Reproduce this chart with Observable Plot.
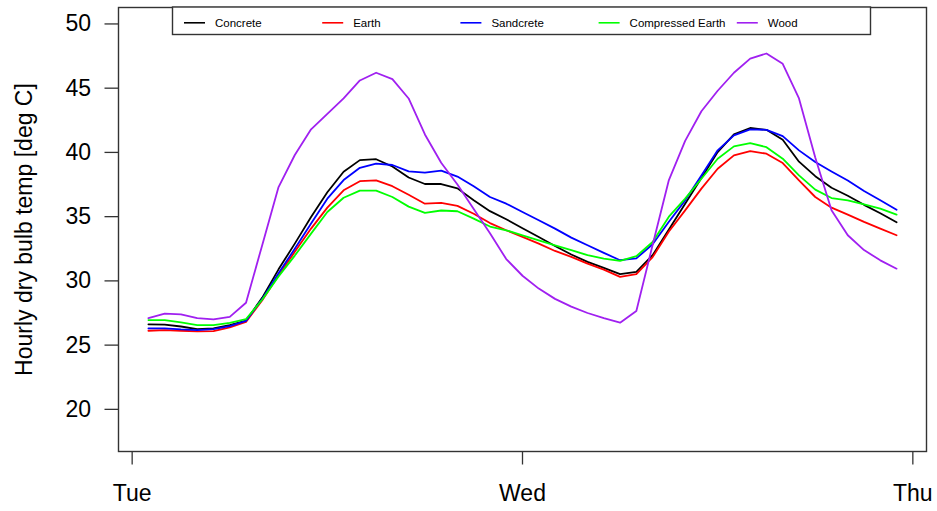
<!DOCTYPE html>
<html><head><meta charset="utf-8">
<script src="https://cdn.jsdelivr.net/npm/d3@7"></script>
<script src="https://cdn.jsdelivr.net/npm/@observablehq/plot@0.6"></script>
<style>
body{margin:0;background:#fff;}
#chart{position:relative;width:937px;height:511px;}
</style>
</head><body><div id="chart"></div>
<script>
// ---- data (hourly values, Tue 01:00 .. Wed 23:00) ----
const hours = [1,2,3,4,5,6,7,8,9,10,11,12,13,14,15,16,17,18,19,20,21,22,23,24,25,26,27,28,29,30,31,32,33,34,35,36,37,38,39,40,41,42,43,44,45,46,47];
const concrete = [26.62,26.6,26.45,26.25,26.3,26.55,26.9,28.7,30.9,32.9,34.97,36.9,38.5,39.4,39.47,38.9,38.05,37.54,37.54,37.2,36.27,35.43,34.8,34.1,33.42,32.72,32.05,31.48,31.01,30.52,30.7,32.0,34.0,36.0,38.0,40.03,41.4,41.9,41.76,40.98,39.28,38.15,37.25,36.63,35.92,35.26,34.56];
const earth = [26.12,26.17,26.12,26.07,26.09,26.38,26.8,28.5,30.44,32.26,34.07,35.7,37.05,37.76,37.82,37.37,36.7,36.01,36.07,35.84,35.23,34.5,33.94,33.42,32.9,32.33,31.87,31.35,30.88,30.31,30.52,31.85,33.85,35.49,37.18,38.73,39.77,40.1,39.9,39.17,37.82,36.53,35.7,35.16,34.59,34.07,33.55];
const sandcrete = [26.3,26.3,26.22,26.17,26.25,26.48,26.89,28.6,30.6,32.5,34.46,36.4,37.85,38.8,39.12,39.02,38.52,38.42,38.58,38.12,37.36,36.53,36.01,35.36,34.72,34.07,33.37,32.77,32.18,31.61,31.75,32.85,34.6,36.27,38.21,40.16,41.32,41.79,41.76,41.27,40.16,39.25,38.52,37.82,36.99,36.27,35.54];
const compressedEarth = [26.95,26.95,26.77,26.56,26.56,26.74,27.02,28.55,30.35,31.97,33.68,35.36,36.47,37.03,37.03,36.53,35.78,35.3,35.48,35.42,34.85,34.23,33.94,33.55,33.16,32.77,32.39,32.0,31.74,31.56,31.92,33.03,35.0,36.4,37.95,39.51,40.47,40.72,40.41,39.51,38.21,37.1,36.45,36.27,35.96,35.62,35.16];
const wood = [27.1,27.45,27.4,27.1,27.0,27.2,28.3,32.8,37.3,39.8,41.8,43.0,44.2,45.6,46.2,45.7,44.2,41.4,39.2,37.5,35.6,33.7,31.7,30.4,29.4,28.6,28.0,27.5,27.1,26.75,27.65,32.8,37.85,40.9,43.2,44.8,46.2,47.3,47.7,46.9,44.2,39.6,35.5,33.55,32.4,31.6,30.95];

const seriesNames = ["Concrete","Earth","Sandcrete","Compressed Earth","Wood"];
const seriesColors = ["#000000","#ff0000","#0000ff","#00ff00","#a020f0"];
const dayTicks = [0,24,48];
const dayLabels = ["Tue","Wed","Thu"];
const yTicks = [20,25,30,35,40,45,50];
const yLabel = "Hourly dry bulb temp [deg C]";
const yLimits = [18,50];

// ---- build table ----
const seriesValues = [concrete, earth, sandcrete, compressedEarth, wood];
const table = seriesNames.flatMap((name,i)=>hours.map((h,j)=>({hour:h,temp:seriesValues[i][j],series:name})));

const font = "'Liberation Sans', Arial, Helvetica, sans-serif";
const W=937,H=511,mL=118,mT=7,mR=11,mB=60;
const xr = d3.extent(hours), xPad=(xr[1]-xr[0])*0.04, yPad=(yLimits[1]-yLimits[0])*0.04;

const chart = Plot.plot({
  width:W, height:H, marginLeft:mL, marginTop:mT, marginRight:mR, marginBottom:mB,
  style:{fontFamily:font, fontSize:"23px", color:"#000", background:"#fff", overflow:"visible"},
  x:{domain:[xr[0]-xPad, xr[1]+xPad]},
  y:{domain:[yLimits[0]-yPad, yLimits[1]+yPad]},
  color:{domain:seriesNames, range:seriesColors},
  marks:[
    Plot.axisX({ticks:dayTicks, tickFormat:d=>dayLabels[dayTicks.indexOf(d)], tickSize:13.5, tickPadding:20, label:null, stroke:"#333", strokeWidth:1.3, fontSize:23}),
    Plot.axisY({ticks:yTicks, tickFormat:d=>String(d), tickSize:13.5, tickPadding:14, label:null, stroke:"#333", strokeWidth:1.3, fontSize:23}),
    Plot.lineY(table, {x:"hour", y:"temp", z:"series", stroke:"series", strokeWidth:1.8}),
    Plot.frame({stroke:"#333", strokeWidth:1.4}),
    Plot.text([yLabel], {text:d=>d, frameAnchor:"left", textAnchor:"middle", dx:-94, rotate:-90, fontSize:23, fill:"#000"})
  ]
});
document.getElementById("chart").appendChild(chart);

// ---- legend (top, horizontal, boxed like R) ----
const svg = d3.select(chart);
const legX0 = 172.5, legX1 = 870.5, legY0 = 7, legY1 = 34.5, itemStart = 184, itemStep = 138.2, lineLen = 21, rowY = 22.8;
const g = svg.append("g").attr("font-family", font).attr("font-size", "11.5px").attr("text-anchor", "start");
g.append("rect").attr("x", legX0).attr("y", legY0).attr("width", legX1-legX0).attr("height", legY1-legY0)
  .attr("fill", "#fff").attr("stroke", "#333").attr("stroke-width", 1.4);
seriesNames.forEach((name,i)=>{
  const x = itemStart + i*itemStep;
  g.append("line").attr("x1", x).attr("x2", x+lineLen).attr("y1", rowY).attr("y2", rowY)
    .attr("stroke", seriesColors[i]).attr("stroke-width", 1.6);
  g.append("text").attr("x", x+lineLen+10).attr("y", rowY).attr("dy", "0.35em").attr("text-anchor", "start").attr("fill", "#000").text(name);
});
</script>
</body></html>
